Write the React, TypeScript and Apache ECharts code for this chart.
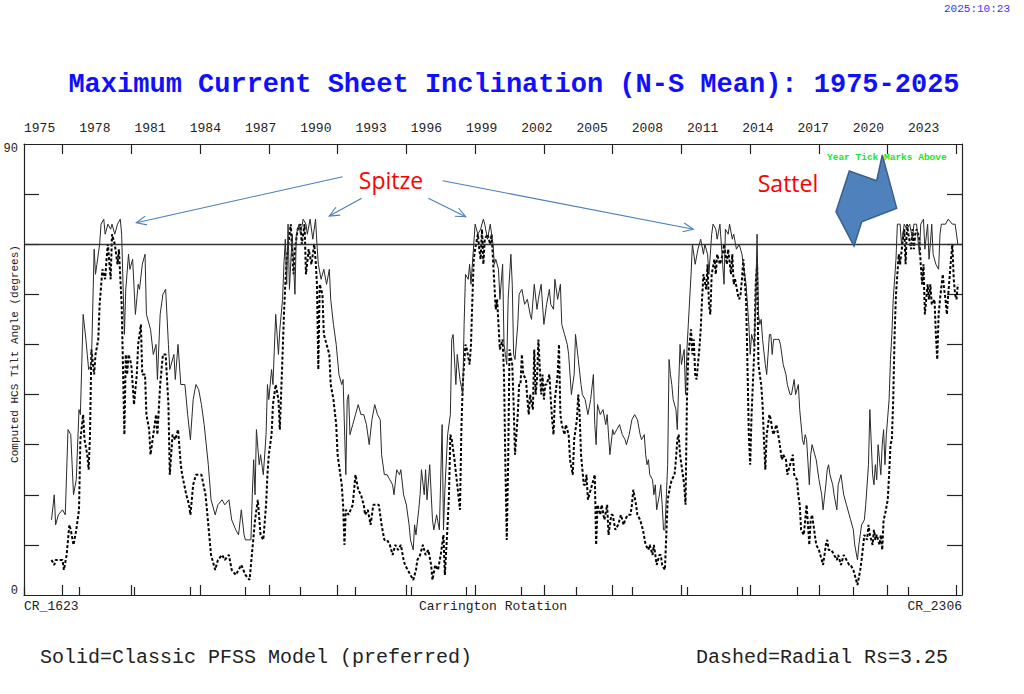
import React, { useEffect, useRef } from "react";
import * as echarts from "echarts";

// ---- Data: Carrington rotation number, tilt angle (degrees) ----
const solid21: [number, number][] = [
  [1642, 15], [1644, 20], [1645, 14], [1647, 16], [1650, 17], [1652, 16], [1654, 33], [1656, 32],
  [1658, 20], [1660, 23], [1662, 37], [1663, 36], [1665, 56], [1667, 51], [1668, 48], [1669, 45],
  [1671, 46], [1673, 69], [1674, 64], [1675, 66], [1677, 70], [1678, 74], [1680, 75], [1681, 72],
  [1683, 74], [1685, 73], [1686, 74], [1688, 72], [1690, 74], [1692, 75], [1693, 72], [1695, 52],
  [1696, 61], [1698, 68], [1699, 65], [1701, 67], [1703, 56], [1705, 62], [1706, 61], [1708, 66],
  [1710, 68], [1711, 56], [1714, 53], [1716, 48], [1718, 50], [1719, 43], [1721, 56], [1723, 60],
  [1725, 61], [1727, 50], [1728, 45], [1731, 48], [1732, 43], [1734, 50], [1736, 42], [1739, 42],
  [1741, 36], [1743, 31], [1745, 39], [1747, 42], [1749, 41], [1751, 38], [1753, 34], [1756, 26],
  [1758, 19], [1761, 16], [1763, 18], [1766, 19], [1768, 18], [1771, 19], [1773, 15], [1776, 13],
  [1778, 12], [1780, 17], [1782, 12], [1783, 11], [1785, 11], [1787, 11],
];
const solid22: [number, number][] = [
  [1788, 20], [1789, 27], [1790, 20], [1791, 33], [1793, 26], [1794, 28], [1796, 24], [1798, 32],
  [1799, 42], [1800, 39], [1802, 45], [1803, 42], [1805, 56], [1807, 48], [1808, 53], [1810, 59],
  [1811, 66], [1812, 71], [1813, 62], [1814, 74], [1815, 61], [1817, 72], [1819, 60], [1820, 72],
  [1822, 74], [1823, 72], [1825, 75], [1827, 74], [1828, 72], [1830, 75], [1832, 71], [1834, 75],
  [1835, 70], [1836, 66], [1838, 63], [1840, 65], [1842, 62], [1844, 65], [1845, 59], [1847, 54],
  [1849, 50], [1851, 44], [1853, 42], [1854, 43], [1856, 24], [1857, 39], [1858, 40], [1859, 32],
  [1861, 34], [1863, 36], [1865, 38], [1867, 36], [1869, 36], [1871, 34], [1873, 30], [1875, 35],
  [1877, 38], [1879, 36], [1881, 35], [1882, 28], [1884, 24], [1886, 24], [1888, 23], [1890, 22],
  [1891, 20], [1893, 25], [1895, 24], [1896, 25], [1898, 20], [1900, 18], [1902, 14], [1903, 11],
  [1905, 9], [1906, 14], [1907, 12], [1909, 17], [1910, 20], [1911, 25], [1913, 20], [1914, 25],
  [1915, 19], [1917, 26], [1919, 15], [1920, 13], [1922, 16], [1924, 13], [1926, 34], [1927, 13],
  [1928, 21], [1930, 32], [1932, 36], [1933, 51], [1934, 52], [1936, 42], [1937, 48], [1939, 43],
  [1941, 40], [1942, 54], [1943, 64], [1945, 63], [1946, 66], [1947, 62], [1949, 70], [1950, 74],
  [1952, 72], [1954, 73],
];
const solid23: [number, number][] = [
  [1956, 75], [1957, 74], [1959, 71], [1961, 74], [1963, 70], [1964, 66], [1965, 67], [1967, 65],
  [1968, 59], [1970, 66], [1971, 50], [1972, 48], [1973, 46], [1974, 59], [1976, 68], [1977, 62],
  [1978, 48], [1979, 47], [1981, 54], [1982, 60], [1984, 61], [1986, 58], [1988, 59], [1990, 56],
  [1991, 55], [1993, 62], [1995, 57], [1996, 59], [1998, 62], [2000, 54], [2002, 58], [2004, 61],
  [2005, 58], [2007, 57], [2008, 63], [2010, 59], [2012, 62], [2013, 54], [2015, 52], [2017, 50],
  [2018, 48], [2020, 40], [2022, 44], [2023, 52], [2025, 47], [2027, 42], [2028, 40], [2030, 39],
  [2032, 36], [2034, 39], [2036, 44], [2037, 34], [2038, 30], [2039, 38], [2041, 36], [2043, 37],
  [2045, 34], [2046, 36], [2048, 28], [2050, 33], [2051, 32], [2053, 33], [2055, 34], [2057, 32],
  [2059, 31], [2060, 30], [2062, 32], [2064, 35], [2066, 36], [2068, 35], [2070, 32], [2071, 31],
  [2073, 32], [2074, 28], [2075, 26], [2076, 27], [2077, 24], [2079, 23], [2080, 20], [2081, 22],
  [2082, 17], [2084, 20], [2085, 22], [2086, 18], [2087, 13], [2088, 13], [2090, 26], [2091, 47],
  [2092, 44], [2093, 42], [2094, 39], [2096, 37], [2097, 33], [2098, 42], [2099, 50], [2100, 46],
  [2102, 49], [2103, 40], [2104, 49], [2105, 54], [2107, 64], [2108, 70], [2110, 66], [2112, 69],
  [2114, 71], [2116, 68], [2117, 70], [2119, 68], [2120, 64],
];
const solid24: [number, number][] = [
  [2122, 72], [2123, 74], [2125, 73], [2126, 71], [2128, 74], [2130, 66], [2131, 62], [2132, 73],
  [2134, 72], [2135, 74], [2137, 71], [2138, 72], [2140, 69], [2142, 70], [2144, 68], [2145, 66],
  [2147, 62], [2149, 54], [2150, 48], [2151, 52], [2153, 50], [2154, 59], [2155, 72], [2156, 56],
  [2157, 54], [2158, 55], [2159, 51], [2161, 46], [2162, 44], [2164, 52], [2165, 52], [2166, 48],
  [2167, 51], [2169, 51], [2171, 51], [2172, 50], [2174, 46], [2176, 44], [2177, 42], [2179, 40],
  [2180, 40], [2182, 43], [2183, 40], [2185, 42], [2186, 37], [2188, 31], [2189, 30], [2190, 32],
  [2191, 31], [2193, 22], [2194, 28], [2195, 30], [2197, 28], [2198, 27], [2200, 23], [2202, 20],
  [2203, 17], [2205, 22], [2206, 25], [2207, 26], [2208, 24], [2210, 22], [2211, 20], [2213, 17],
  [2214, 22], [2216, 24], [2217, 22], [2218, 20], [2220, 18], [2222, 16], [2223, 15], [2225, 13],
  [2226, 10], [2228, 7], [2229, 10], [2230, 12], [2231, 14], [2233, 15], [2234, 18], [2236, 26],
  [2237, 37], [2239, 24], [2240, 22], [2241, 26], [2242, 23], [2243, 30], [2245, 24], [2246, 30],
  [2247, 33], [2248, 26], [2249, 32], [2251, 39], [2252, 47], [2253, 52], [2254, 59], [2256, 67],
  [2257, 74], [2259, 74], [2260, 70], [2262, 74], [2264, 73], [2266, 74], [2268, 71], [2269, 74],
  [2271, 74], [2273, 68], [2274, 74], [2276, 75], [2277, 69], [2279, 74], [2280, 67], [2281, 70],
  [2282, 74], [2283, 68], [2285, 66], [2287, 65], [2288, 72], [2289, 74], [2292, 74], [2294, 75],
  [2297, 74], [2299, 74], [2301, 70],
];

const dashed21: [number, number][] = [
  [1642, 7], [1644, 6], [1645, 7], [1647, 7], [1650, 7], [1651, 5], [1653, 8], [1655, 14],
  [1656, 13], [1658, 10], [1660, 13], [1662, 17], [1663, 31], [1665, 36], [1666, 31], [1668, 28],
  [1669, 25], [1670, 32], [1671, 49], [1673, 44], [1674, 48], [1676, 51], [1677, 58], [1679, 65],
  [1681, 63], [1682, 67], [1683, 70], [1685, 63], [1686, 72], [1688, 70], [1690, 66], [1691, 69],
  [1693, 58], [1695, 32], [1696, 48], [1697, 44], [1698, 48], [1700, 46], [1702, 38], [1704, 44],
  [1705, 50], [1707, 54], [1708, 44], [1710, 44], [1711, 36], [1713, 33], [1714, 28], [1716, 32],
  [1718, 36], [1719, 32], [1721, 42], [1723, 48], [1725, 48], [1727, 38], [1728, 24], [1730, 32],
  [1732, 31], [1734, 33], [1736, 26], [1737, 24], [1740, 20], [1742, 18], [1743, 16], [1745, 22],
  [1747, 24], [1749, 24], [1751, 24], [1754, 20], [1756, 14], [1758, 8], [1761, 5], [1763, 7],
  [1766, 8], [1768, 7], [1771, 8], [1773, 5], [1776, 4], [1778, 5], [1780, 6], [1783, 4],
  [1786, 3],
];
const dashed22: [number, number][] = [
  [1788, 9], [1789, 12], [1790, 15], [1792, 19], [1794, 12], [1796, 11], [1798, 18], [1799, 24],
  [1800, 28], [1802, 32], [1803, 38], [1805, 42], [1807, 39], [1808, 33], [1810, 48], [1811, 56],
  [1812, 62], [1813, 67], [1815, 72], [1816, 74], [1817, 68], [1818, 64], [1819, 69], [1821, 73],
  [1823, 74], [1824, 70], [1826, 74], [1827, 64], [1829, 69], [1831, 66], [1833, 70], [1834, 67],
  [1835, 62], [1836, 45], [1837, 62], [1839, 60], [1840, 52], [1842, 50], [1844, 48], [1845, 42],
  [1847, 39], [1849, 34], [1850, 28], [1852, 24], [1853, 22], [1854, 18], [1855, 10], [1856, 17],
  [1858, 16], [1861, 18], [1863, 24], [1865, 21], [1867, 20], [1869, 18], [1870, 16], [1872, 17],
  [1874, 14], [1876, 18], [1878, 18], [1880, 18], [1882, 14], [1884, 11], [1886, 11], [1888, 10],
  [1890, 8], [1892, 10], [1894, 9], [1896, 10], [1898, 7], [1899, 6], [1901, 5], [1903, 4],
  [1905, 3], [1907, 5], [1908, 7], [1910, 8], [1912, 10], [1914, 8], [1916, 9], [1918, 6],
  [1919, 3], [1921, 6], [1923, 5], [1925, 8], [1927, 12], [1928, 4], [1930, 14], [1931, 20],
  [1932, 32], [1933, 31], [1935, 27], [1937, 22], [1939, 17], [1940, 33], [1941, 42], [1943, 50],
  [1944, 49], [1946, 46], [1947, 50], [1948, 59], [1949, 67], [1950, 69], [1952, 72], [1953, 69],
];
const dashed23: [number, number][] = [
  [1954, 67], [1955, 73], [1956, 66], [1957, 71], [1959, 72], [1961, 70], [1962, 72], [1964, 62],
  [1965, 57], [1966, 59], [1967, 54], [1968, 49], [1970, 51], [1971, 44], [1972, 26], [1973, 11],
  [1974, 26], [1975, 49], [1977, 46], [1978, 38], [1979, 28], [1981, 36], [1982, 42], [1983, 42],
  [1984, 48], [1985, 44], [1987, 43], [1988, 39], [1989, 36], [1990, 40], [1992, 37], [1993, 49],
  [1994, 40], [1995, 43], [1996, 51], [1998, 40], [1999, 44], [2000, 39], [2001, 42], [2002, 42],
  [2004, 44], [2005, 39], [2006, 35], [2007, 32], [2008, 39], [2010, 44], [2011, 50], [2012, 36],
  [2013, 34], [2015, 32], [2016, 34], [2018, 32], [2019, 27], [2021, 24], [2022, 31], [2024, 35],
  [2025, 40], [2026, 36], [2027, 28], [2029, 22], [2030, 22], [2031, 24], [2032, 19], [2033, 20],
  [2035, 22], [2037, 24], [2038, 10], [2039, 18], [2041, 16], [2042, 18], [2044, 15], [2046, 18],
  [2047, 12], [2049, 16], [2050, 16], [2052, 13], [2054, 14], [2056, 16], [2058, 14], [2059, 15],
  [2061, 16], [2063, 16], [2064, 18], [2065, 21], [2067, 18], [2068, 16], [2070, 15], [2072, 13],
  [2074, 10], [2076, 9], [2077, 10], [2079, 8], [2080, 10], [2082, 6], [2084, 8], [2085, 8],
  [2086, 6], [2088, 5], [2089, 12], [2090, 19], [2092, 22], [2093, 23], [2095, 24], [2096, 27],
  [2097, 31], [2098, 32], [2099, 28], [2101, 24], [2102, 22], [2103, 18], [2104, 39], [2105, 48],
  [2107, 53], [2108, 48], [2109, 51], [2110, 44], [2111, 43], [2113, 49], [2114, 53], [2115, 59],
  [2116, 64], [2118, 61], [2119, 66], [2120, 58], [2121, 56],
];
const dashed24: [number, number][] = [
  [2122, 64], [2124, 67], [2125, 64], [2126, 68], [2128, 66], [2130, 68], [2131, 70], [2133, 66],
  [2134, 69], [2136, 64], [2137, 68], [2138, 62], [2139, 63], [2141, 60], [2142, 59], [2143, 60],
  [2144, 63], [2145, 67], [2147, 59], [2148, 46], [2149, 32], [2150, 26], [2151, 36], [2153, 49],
  [2154, 62], [2155, 66], [2156, 46], [2158, 42], [2159, 38], [2160, 31], [2161, 25], [2162, 32],
  [2164, 36], [2165, 35], [2166, 33], [2167, 32], [2169, 34], [2171, 31], [2173, 27], [2174, 28],
  [2176, 27], [2177, 24], [2179, 26], [2181, 28], [2182, 24], [2184, 23], [2185, 20], [2186, 18],
  [2187, 13], [2189, 12], [2190, 15], [2191, 18], [2193, 10], [2194, 15], [2195, 16], [2197, 12],
  [2198, 10], [2200, 9], [2202, 7], [2203, 6], [2205, 10], [2206, 11], [2207, 9], [2209, 9],
  [2211, 8], [2213, 7], [2214, 8], [2216, 6], [2218, 8], [2220, 7], [2222, 6], [2223, 6],
  [2225, 5], [2227, 3], [2228, 2], [2230, 5], [2231, 7], [2233, 12], [2235, 11], [2236, 14],
  [2237, 12], [2239, 10], [2240, 13], [2241, 11], [2242, 12], [2244, 10], [2245, 12], [2246, 9],
  [2247, 15], [2248, 16], [2250, 19], [2251, 24], [2252, 30], [2253, 31], [2254, 39], [2255, 52],
  [2256, 60], [2257, 64], [2258, 68], [2259, 66], [2261, 71], [2262, 73], [2263, 66], [2264, 74],
  [2265, 72], [2267, 69], [2268, 73], [2269, 69], [2270, 72], [2271, 73], [2273, 71], [2274, 66],
  [2275, 62], [2276, 66], [2277, 56], [2279, 62], [2280, 59], [2281, 62], [2282, 58], [2284, 59],
  [2285, 52], [2286, 47], [2287, 56], [2288, 59], [2290, 64], [2291, 61], [2292, 59], [2293, 56],
  [2294, 60], [2296, 67], [2297, 70], [2298, 63], [2299, 60], [2300, 59], [2301, 62],
];

// ---- Axes / ticks ----
const crTicks = [1650, 1700, 1750, 1800, 1850, 1900, 1950, 2000, 2050, 2100, 2150, 2200, 2250, 2300];
const yearTicks = [1975, 1978, 1981, 1984, 1987, 1990, 1993, 1996, 1999, 2002, 2005, 2008, 2011, 2014, 2017, 2020, 2023];
const degTicks = [10, 20, 30, 40, 50, 60, 70, 80];
const degLabels = [0, 90];
const REF_LINE = 70;
const CR_MIN = 1622;
const CR_MAX = 2304;
const YEAR_MIN = 1975;
const ROT_PER_YEAR = 365.25 / 27.2753;

const MONO = '"Liberation Mono", "DejaVu Sans Mono", monospace';
const SANS = '"Open Sans", "Liberation Sans", sans-serif';
const AXIS_COLOR = "#222";

function arrowEls(x1: number, y1: number, x2: number, y2: number) {
  const a = Math.atan2(y1 - y2, x1 - x2);
  const L = 11;
  const s = 0.42;
  const color = "#4a7ebb";
  return [
    { type: "line", z: 100, shape: { x1, y1, x2, y2 }, style: { stroke: color, lineWidth: 1.1 } },
    {
      type: "polyline",
      z: 100,
      shape: {
        points: [
          [x2 + L * Math.cos(a + s), y2 + L * Math.sin(a + s)],
          [x2, y2],
          [x2 + L * Math.cos(a - s), y2 + L * Math.sin(a - s)],
        ],
      },
      style: { stroke: color, lineWidth: 1.1, fill: null },
    },
  ];
}

export default function App() {
  const ref = useRef<HTMLDivElement>(null);
  useEffect(() => {
    if (!ref.current) return;
    const chart = echarts.init(ref.current, null, { renderer: "svg" });
    const solid = [...solid21, ...solid22, ...solid23, ...solid24];
    const dashed = [...dashed21, ...dashed22, ...dashed23, ...dashed24];
    const yearMax = YEAR_MIN + (CR_MAX - CR_MIN) / ROT_PER_YEAR;

    const txt = (text: string, x: number, y: number, font: string, fill: string, align = "left", verticalAlign = "middle", extra: any = {}) => ({
      type: "text",
      z: 100,
      x,
      y,
      ...extra,
      style: { text, font, fill, align, verticalAlign },
    });

    const option: any = {
      animation: false,
      backgroundColor: "#ffffff",
      grid: { left: 24, right: 62, top: 144, bottom: 99, containLabel: false, outerBoundsMode: "none" },
      xAxis: [
        {
          type: "value",
          position: "bottom",
          min: CR_MIN,
          max: CR_MAX,
          axisLine: { show: true, onZero: false, lineStyle: { color: AXIS_COLOR, width: 1.2 } },
          axisTick: { show: true, inside: true, length: 10, customValues: crTicks, lineStyle: { color: AXIS_COLOR, width: 1.2 } },
          axisLabel: { show: false },
          splitLine: { show: false },
          name: "Carrington Rotation",
          nameLocation: "middle",
          nameGap: 5,
          nameTextStyle: { fontFamily: MONO, fontSize: 13, color: AXIS_COLOR, verticalAlign: "top" },
        },
        {
          type: "value",
          position: "top",
          min: CR_MIN,
          max: CR_MAX,
          axisLine: { show: true, onZero: false, lineStyle: { color: AXIS_COLOR, width: 1.2 } },
          axisTick: { show: true, inside: true, length: 10, customValues: crTicks, lineStyle: { color: AXIS_COLOR, width: 1.2 } },
          axisLabel: { show: false },
          splitLine: { show: false },
        },
        {
          type: "value",
          position: "top",
          min: YEAR_MIN,
          max: yearMax,
          axisLine: { show: false },
          axisTick: { show: true, inside: false, length: 8, customValues: yearTicks, lineStyle: { color: AXIS_COLOR, width: 1.2 } },
          axisLabel: {
            show: true,
            customValues: yearTicks,
            formatter: (v: number) => String(Math.round(v)),
            align: "left",
            margin: 9,
            fontFamily: MONO,
            fontSize: 13,
            color: AXIS_COLOR,
          },
          splitLine: { show: false },
        },
      ],
      yAxis: [
        {
          type: "value",
          position: "left",
          min: 0,
          max: 90,
          axisLine: { show: true, onZero: false, lineStyle: { color: AXIS_COLOR, width: 1.2 } },
          axisTick: { show: true, inside: true, length: 15, customValues: degTicks, lineStyle: { color: AXIS_COLOR, width: 1.2 } },
          axisLabel: {
            show: true,
            customValues: degLabels,
            margin: 6,
            fontFamily: MONO,
            fontSize: 12,
            color: AXIS_COLOR,
            formatter: (v: number) => (v >= 90 ? `{t|${v}}` : `{b|${v}}`),
            rich: {
              t: { fontFamily: MONO, fontSize: 12, color: AXIS_COLOR, padding: [10, 0, 0, 0] },
              b: { fontFamily: MONO, fontSize: 12, color: AXIS_COLOR, padding: [0, 0, 8, 0] },
            },
          },
          splitLine: { show: false },
        },
        {
          type: "value",
          position: "right",
          min: 0,
          max: 90,
          axisLine: { show: true, onZero: false, lineStyle: { color: AXIS_COLOR, width: 1.2 } },
          axisTick: { show: true, inside: true, length: 15, customValues: degTicks, lineStyle: { color: AXIS_COLOR, width: 1.2 } },
          axisLabel: { show: false },
          splitLine: { show: false },
        },
      ],
      series: [
        {
          name: "Classic PFSS",
          type: "line",
          xAxisIndex: 0,
          yAxisIndex: 0,
          data: solid,
          symbol: "none",
          showSymbol: false,
          lineStyle: { color: "#2a2a2a", width: 1 },
          z: 3,
          markLine: {
            silent: true,
            symbol: ["none", "none"],
            label: { show: false },
            lineStyle: { color: "#333", width: 1.3, type: "solid" },
            data: [{ yAxis: REF_LINE }],
          },
        },
        {
          name: "Radial Rs=3.25",
          type: "line",
          xAxisIndex: 0,
          yAxisIndex: 0,
          data: dashed,
          symbol: "none",
          showSymbol: false,
          lineStyle: { color: "#000", width: 2, type: [3, 2] },
          z: 2,
        },
      ],
      graphic: [
        txt("2025:10:23", 1010, 9, `11px ${MONO}`, "#3333ff", "right"),
        txt("Maximum Current Sheet Inclination (N-S Mean): 1975-2025", 514, 85, `bold 27px ${MONO}`, "#1010ff", "center"),
        txt("Computed HCS Tilt Angle (degrees)", 15, 354, `11px ${MONO}`, AXIS_COLOR, "center", "middle", { rotation: Math.PI / 2 }),
        txt("CR_1623", 24, 606, `13px ${MONO}`, AXIS_COLOR, "left"),
        txt("CR_2306", 962, 606, `13px ${MONO}`, AXIS_COLOR, "right"),
        txt("Solid=Classic PFSS Model (preferred)", 40, 657, `20px ${MONO}`, "#222", "left"),
        txt("Dashed=Radial Rs=3.25", 948, 657, `20px ${MONO}`, "#222", "right"),
        txt("Spitze", 391, 180, `23px ${SANS}`, "#ff0000", "center"),
        txt("Sattel", 788, 183, `23px ${SANS}`, "#ff0000", "center"),
        ...arrowEls(342.7, 176.7, 136.3, 222.7),
        ...arrowEls(361.7, 198.3, 329.3, 216),
        ...arrowEls(428.3, 198.3, 465.7, 216.7),
        ...arrowEls(442.7, 180.7, 693.3, 229.3),
        {
          type: "polygon",
          z: 100,
          shape: {
            points: [
              [849.3, 171],
              [876.7, 180.7],
              [882.3, 155],
              [896.7, 208.3],
              [861.7, 221.7],
              [854, 246],
              [836, 211.7],
            ],
          },
          style: { fill: "#4f81bd", stroke: "#3a5f8c", lineWidth: 1.5 },
        },
        txt("Year Tick Marks Above", 827, 157, `bold 9.5px ${MONO}`, "#19e619", "left", "middle", { z: 101 }),
      ],
    };
    chart.setOption(option);
    return () => chart.dispose();
  }, []);
  return (
    <div
      ref={ref}
      style={{ position: "absolute", left: 0, top: 0, width: 1024, height: 694, background: "#fff" }}
    />
  );
}
